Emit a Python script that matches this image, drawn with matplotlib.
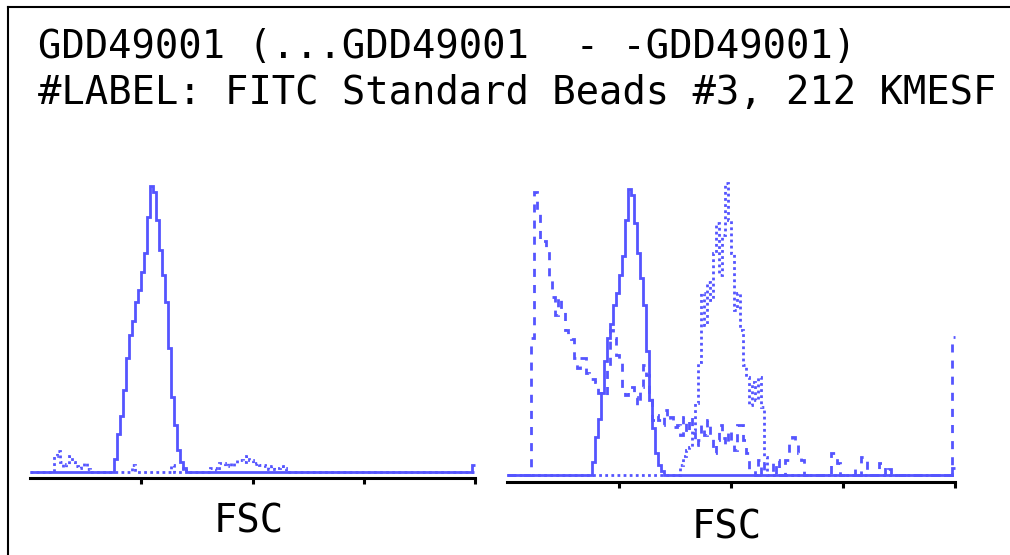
import numpy as np
import matplotlib
matplotlib.use("Agg")
import matplotlib.pyplot as plt
from matplotlib.lines import Line2D
from matplotlib.ticker import NullLocator

# histogram channels: 148 bins over 4 log decades
n_bins = 148
edges = np.logspace(0, 4, n_bins + 1)

title_1 = "GDD49001 (...GDD49001  - -GDD49001)"
title_2 = "#LABEL: FITC Standard Beads #3, 212 KMESF"
x_label = "FSC"
tick_pos = [10, 100, 1000, 10000]

# solid histogram (drawn in both panels)
solid_start = 28
solid_counts = [13, 38, 56, 82, 114, 137, 151, 170, 182, 200, 219, 255,
                286, 280, 252, 222, 197, 170, 124, 75, 47, 22, 10, 4]
solid_last = 7

# dotted histogram, left panel
left_dot_start = 8
left_dot_counts = [16, 21, 10, 5, 8, 16, 10, 6, 4, 6, 9, 3,
                   0, 0, 0, 0, 0, 0, 0, 0, 0, 0, 0, 0, 0, 0,
                   7, 0, 0, 0, 0, 0, 0, 0, 0, 0, 0, 0, 0,
                   7, 0, 0, 0, 4, 0, 0, 0, 0, 0, 0, 0, 0,
                   4, 4, 2, 9, 9, 6, 9, 6, 9, 12, 12, 10, 16, 12, 8, 9,
                   7, 7, 6, 3, 6, 3, 4, 6, 4]

# dashed histogram, right panel
right_dash_start = 8
right_dash_counts = [137, 283, 262, 233, 234, 228, 197, 178, 160, 178, 163, 145,
                     138, 136, 117, 107, 117, 117, 102, 96, 96, 93, 82, 80,
                     80, 108, 145, 137, 120, 115, 85, 80, 88, 88, 78, 70,
                     88, 110, 100, 80, 55, 60, 55, 50, 65,
                     55, 58, 48, 50, 40, 58, 42, 58, 42, 30, 35, 50,
                     40, 55, 37, 22, 35, 50, 37, 30, 45, 30, 25, 50,
                     50, 35, 22, 5, 5, 0, 15, 0, 12, 12, 12, 0,
                     15, 0, 0, 15, 35, 38, 30, 22, 15,
                     0, 0, 0, 0, 0, 0, 0, 0, 0,
                     22, 22, 12, 0, 0, 0, 0, 0, 6, 0, 18, 18,
                     0, 0, 0, 0, 12, 12, 0, 6]
right_dash_last = 138

# dotted histogram, right panel
right_dot_start = 57
right_dot_counts = [10, 19, 25, 28, 45, 72, 113, 182, 150, 193, 175, 222,
                    252, 200, 240, 292, 255, 222, 165, 182, 145, 110, 98, 70,
                    93, 75, 98, 68, 18]


def full_hist(start, counts, last=0):
    h = np.zeros(n_bins)
    h[start:start + len(counts)] = counts
    if last:
        h[-1] = last
    return h


blue = "#5555ff"
lw = 2.0
dash = (0, (2.9, 2.9))
dots = (0, (1.0, 1.2))
mono = "DejaVu Sans Mono"
fs = 28

W, H = 1010, 555
fig = plt.figure(figsize=(W / 100, H / 100), dpi=100)

# outer frame (top and left edges visible)
fig.add_artist(Line2D([8 / W, 1], [1 - 7 / H, 1 - 7 / H], color="black", lw=1.5,
                      transform=fig.transFigure))
fig.add_artist(Line2D([8 / W, 8 / W], [0, 1 - 7 / H], color="black", lw=1.5,
                      transform=fig.transFigure))

fig.text(38 / W, 1 - 58 / H, title_1, family=mono, fontsize=fs, va="baseline")
fig.text(38 / W, 1 - 104 / H, title_2, family=mono, fontsize=fs, va="baseline")

# left panel: x 30..475 px, axis line at y=478 px
ax1 = fig.add_axes([30 / W, 1 - 478 / H, 445 / W, 300 / H])
ax1.stairs(full_hist(left_dot_start, left_dot_counts), edges, baseline=None,
           color=blue, lw=lw, linestyle=dots)
ax1.stairs(full_hist(solid_start, solid_counts, solid_last), edges, baseline=None,
           color=blue, lw=lw)
ax1.set_ylim(-6, 294)

# right panel: x 507..955 px, axis line at y=482 px
ax2 = fig.add_axes([507 / W, 1 - 482 / H, 448 / W, 300 / H])
ax2.stairs(full_hist(right_dash_start, right_dash_counts, right_dash_last), edges,
           baseline=None, color=blue, lw=lw, linestyle=dash)
ax2.stairs(full_hist(right_dot_start, right_dot_counts), edges, baseline=None,
           color=blue, lw=lw, linestyle=dots)
ax2.stairs(full_hist(solid_start, solid_counts, solid_last), edges, baseline=None,
           color=blue, lw=lw)
ax2.set_ylim(-7, 293)

for ax, lx, ly in [(ax1, 0.492, -0.183), (ax2, 0.491, -0.187)]:
    ax.set_xscale("log")
    ax.set_xlim(1, 1e4)
    ax.set_xticks(tick_pos)
    ax.xaxis.set_minor_locator(NullLocator())
    ax.tick_params(axis="x", which="major", direction="out", length=4.5, width=2.2,
                   labelbottom=False)
    ax.set_yticks([])
    for s in ["top", "right", "left"]:
        ax.spines[s].set_visible(False)
    ax.spines["bottom"].set_linewidth(2.2)
    ax.set_xlabel(x_label, family=mono, fontsize=fs, va="baseline")
    ax.xaxis.set_label_coords(lx, ly)
    ax.patch.set_visible(False)
    for art in ax.patches + ax.lines:
        art.set_clip_on(False)

fig.savefig("out.png", dpi=100)
